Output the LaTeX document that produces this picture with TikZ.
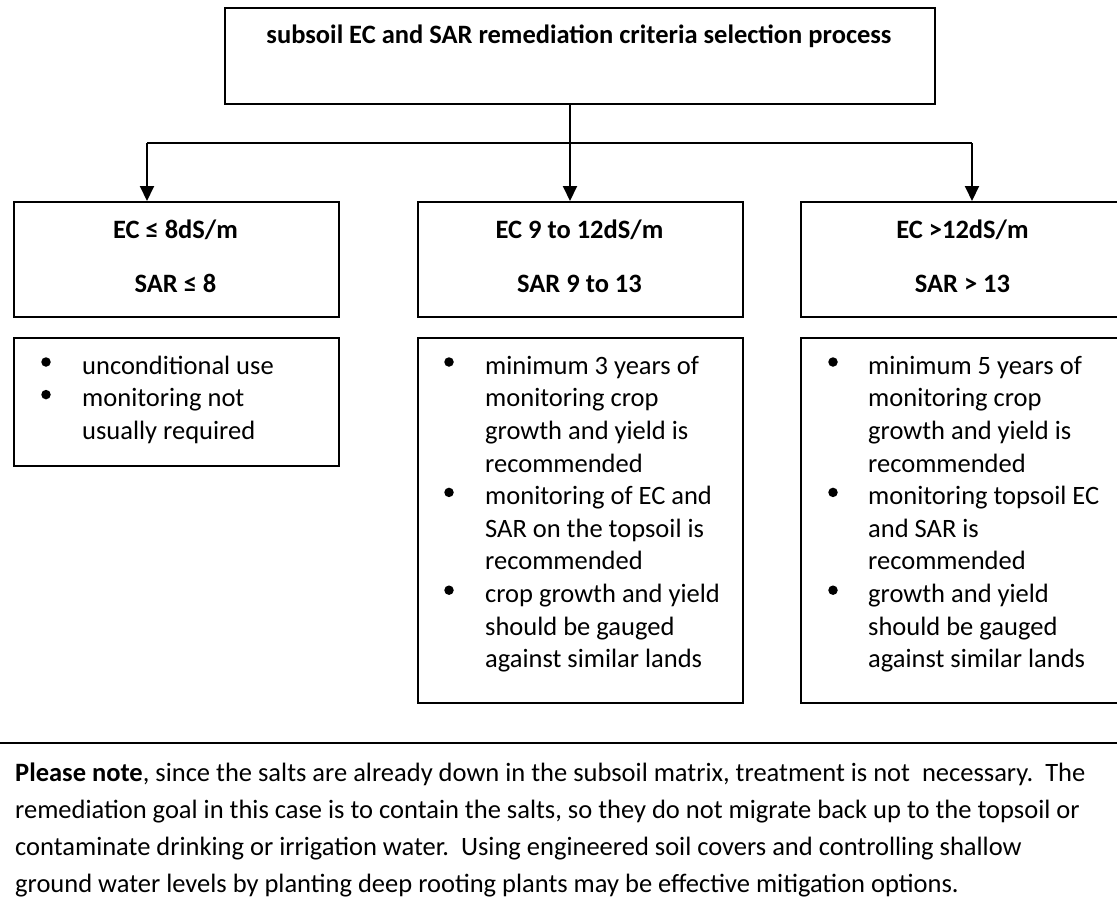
\documentclass[tikz,border=0pt]{standalone}
\usepackage{fontspec}
\setmainfont{Carlito}
\usetikzlibrary{arrows.meta}
\tikzset{
  boxn/.style={draw=black, line width=2pt, rectangle, inner sep=0pt, anchor=north west},
  conn/.style={draw=black, line width=2pt},
  arr/.style={conn, -{Triangle[length=15pt,width=14pt]}},
  hdr/.style={font=\bfseries\fontsize{26.5}{32}\selectfont, inner sep=0pt, anchor=base},
  btext/.style={anchor=north west, inner sep=0pt, align=left, font=\fontsize{26.5}{32.6}\selectfont},
  dotb/.style={circle, fill=black, inner sep=0pt, minimum size=9.5pt},
  note/.style={anchor=north west, inner sep=0pt, align=left, font=\fontsize{26.5}{37.2}\selectfont},
}
\begin{document}
\begin{tikzpicture}[x=1pt,y=-1pt]
\useasboundingbox (0,0) rectangle (1117,913);
% boxes
\node[boxn, minimum width=710pt, minimum height=96pt] (top) at (224,7) {};
\node[boxn, minimum width=325pt, minimum height=115pt] (b1) at (13,201) {};
\node[boxn, minimum width=325pt, minimum height=115pt] (b2) at (417,201) {};
\node[boxn, minimum width=325pt, minimum height=115pt] (b3) at (800,201) {};
\node[boxn, minimum width=325pt, minimum height=128pt] (c1) at (13,337) {};
\node[boxn, minimum width=325pt, minimum height=365pt] (c2) at (417,337) {};
\node[boxn, minimum width=325pt, minimum height=365pt] (c3) at (800,337) {};
% headings
\node[hdr] (toptext) at (579,43) {subsoil EC and SAR remediation criteria selection process};
\node[hdr] (ec1) at (175.5,238) {EC ≤ 8dS/m};
\node[hdr] (sar1) at (175.5,292) {SAR ≤ 8};
\node[hdr] (ec2) at (579.5,238) {EC 9 to 12dS/m};
\node[hdr] (sar2) at (579.5,292) {SAR 9 to 13};
\node[hdr] (ec3) at (962.5,238) {EC >12dS/m};
\node[hdr] (sar3) at (962.5,292) {SAR > 13};
% connectors
\coordinate (jm) at (570,143);
\coordinate (jl) at (147,143);
\coordinate (jr) at (972,143);
\draw[conn] (top.south -| jm) -- (jm);
\draw[conn] (jl) -- (jr);
\draw[arr] (jl) -- (jl |- b1.north);
\draw[arr] (jm) -- (jm |- b2.north);
\draw[arr] (jr) -- (jr |- b3.north);
% bullet texts
\node[btext] (t1) at (82,351.2) {\strut unconditional use\\monitoring not\\usually required};
\node[btext] (t2) at (485,351.2) {\strut minimum 3 years of\\monitoring crop\\growth and yield is\\recommended\\monitoring of EC and\\SAR on the topsoil is\\recommended\\crop growth and yield\\should be gauged\\against similar lands};
\node[btext] (t3) at (868,351.2) {\strut minimum 5 years of\\monitoring crop\\growth and yield is\\recommended\\monitoring topsoil EC\\and SAR is\\recommended\\growth and yield\\should be gauged\\against similar lands};
% bullets
\node[dotb] (d11) at (46,362) {};
\node[dotb] (d12) at (46,394.6) {};
\node[dotb] (d21) at (449,362) {};
\node[dotb] (d22) at (449,492.4) {};
\node[dotb] (d23) at (449,590.2) {};
\node[dotb] (d31) at (833,362) {};
\node[dotb] (d32) at (833,492.4) {};
\node[dotb] (d33) at (833,590.2) {};
% separator
\coordinate (sepL) at (0,743);
\coordinate (sepR) at (1117,743);
\draw[line width=2.5pt] (sepL) -- (sepR);
% note
\node[note] (para) at (15,754.96) {\strut\textbf{Please note}, since the salts are already down in the subsoil matrix, treatment is not\ \ necessary.\ \ The\\remediation goal in this case is to contain the salts, so they do not migrate back up to the topsoil or\\contaminate drinking or irrigation water.\ \ Using engineered soil covers and controlling shallow\\ground water levels by planting deep rooting plants may be effective mitigation options.};
\end{tikzpicture}
\end{document}
